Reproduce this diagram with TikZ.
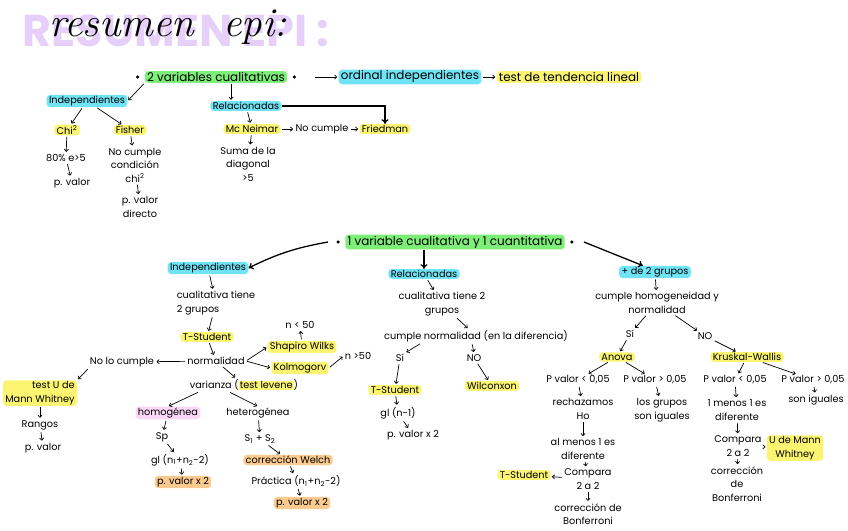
\documentclass[tikz,border=0pt]{standalone}
\usepackage{fontspec}
\usetikzlibrary{arrows.meta}

\newfontfamily\handfont{Poppins}
\newfontfamily\titlebg{Poppins}
\newcommand\hand{\fontsize{8.3}{11.5}\selectfont\handfont}
\newcommand\handbig{\fontsize{10.2}{12}\selectfont\handfont}

\definecolor{hcyan}{RGB}{112,228,245}
\definecolor{hgreen}{RGB}{125,238,120}
\definecolor{hyellow}{RGB}{250,244,112}
\definecolor{hpink}{RGB}{250,215,246}
\definecolor{horange}{RGB}{250,202,142}
\definecolor{lavanda}{RGB}{230,208,250}

\tikzset{
	txt/.style={font=\hand, inner sep=1pt, align=center},
	marca/.style={txt, rounded corners=3pt, inner xsep=2pt},
	grande/.style={font=\handbig},
	hlcyan/.style={marca, fill=hcyan},
	hlgreen/.style={marca, fill=hgreen},
	hlyellow/.style={marca, fill=hyellow},
	hlpink/.style={marca, fill=hpink},
	hlorange/.style={marca, fill=horange},
	punto/.style={circle, fill, inner sep=0pt, minimum size=3pt},
	arr/.style={-{To[length=2.5pt,width=4pt]}, line width=0.6pt, shorten >=1pt, shorten <=1pt},
	arrlargo/.style={-{To[length=4pt,width=6pt]}, line width=1.1pt}
}

\begin{document}
\begin{tikzpicture}[x=0.3mm, y=-0.3mm]
\useasboundingbox (0,0) rectangle (848,530);
\setlength{\fboxsep}{0.8pt}

% Titulo
\node[font=\fontsize{38}{38}\selectfont\bfseries\titlebg, text=lavanda] (fondo) at (176,31) {RESUMEN EPI :};
\node[font=\fontsize{35}{35}\selectfont\itshape\addfontfeatures{LetterSpace=12}] (titulo) at (168,27) {resumen\ \ epi:};

% Dos variables cualitativas
\node[hlgreen, grande] (dosvar) at (216,77) {2 variables cualitativas};
\node[punto] (pdosA) at ([shift={(-7,0)}]dosvar.west) {};
\node[punto] (pdosB) at ([shift={(7,0)}]dosvar.east) {};
\coordinate (iniord) at (314,77);
\node[hlcyan, grande] (ordinal) at (410,77) {ordinal independientes};
\node[hlyellow, grande] (tendencia) at (569,77) {test de tendencia lineal};
\draw[arr] (iniord) -- (ordinal.west);
\draw[arr] (ordinal) -- (tendencia);

\node[hlcyan] (indepA) at (87,101) {Independientes};
\node[hlcyan] (relacA) at (246,106) {Relacionadas};
\draw[arr] (dosvar.south west) -- (indepA.east);
\draw[arr] ([shift={(15,0)}]dosvar.south) -- ([shift={(-15,0)}]relacA.north);

\node[hlyellow] (chi) at (67,130) {Chi\textsuperscript{2}};
\node[hlyellow] (fisher) at (130,130) {Fisher};
\node[txt] (ochenta) at (66,158) {80\% e>5};
\node[txt] (pvalA) at (72,183) {p. valor};
\node[txt] (nocumpleB) at (135,165) {No cumple\\condición\\chi\textsuperscript{2}};
\node[txt] (pvalB) at (140,207) {p. valor\\directo};

\node[hlyellow] (mcneimar) at (252,129) {Mc Neimar};
\node[txt] (nocumpleA) at (322,129) {No cumple};
\node[hlyellow] (friedman) at (385,129) {Friedman};
\node[txt] (suma) at (248,164) {Suma de la\\diagonal\\>5};
\draw[arrlargo] (relacA.east) -- (friedman.north |- relacA.east) -- (friedman.north);

\foreach \a/\b in {indepA/chi, indepA/fisher, chi/ochenta, ochenta/pvalA,
	fisher/nocumpleB, nocumpleB/pvalB, relacA/mcneimar, mcneimar/suma,
	mcneimar/nocumpleA, nocumpleA/friedman}
	\draw[arr] (\a) -- (\b);

% Una variable cualitativa y una cuantitativa
\node[hlgreen, grande] (unavar) at (455,242) {1 variable cualitativa y 1 cuantitativa};
\node[punto] (punA) at ([shift={(-7,0)}]unavar.west) {};
\node[punto] (punB) at ([shift={(7,0)}]unavar.east) {};
\node[hlcyan] (indepB) at (208,268) {Independientes};
\node[hlcyan] (relacB) at (424,274) {Relacionadas};
\node[hlcyan] (masdos) at (655,272) {+ de 2 grupos};
\draw[arrlargo] ([shift={(-8,0)}]punA.west) to[bend right=8] (indepB.east);
\draw[arrlargo] (unavar.south -| relacB.north) -- (relacB.north);
\draw[arrlargo] ([shift={(10,0)}]punB.east) -- ([shift={(-12,0)}]masdos.north);

% Independientes
\node[txt, align=left] (cualiA) at (216,303) {cualitativa tiene\\2 grupos};
\node[hlyellow] (tstudA) at (207,337) {T-Student};
\node[txt] (normal) at (216,361) {normalidad};
\node[txt] (nolo) at (122,362) {No lo cumple};
\node[hlyellow, align=right] (mannA) at (40,393) {test U de\\Mann Whitney};
\node[txt] (rangos) at (40,425) {Rangos};
\node[txt] (pvalC) at (43,448) {p. valor};
\node[hlyellow] (shapiro) at (302,347) {Shapiro Wilks};
\node[txt] (nmenos) at (300,325) {n < 50};
\node[hlyellow] (kolmo) at (300,368) {Kolmogorv};
\node[txt] (nmas) at (358,356) {n >50};
\node[txt] (varianza) at (244,385) {varianza (\colorbox{hyellow}{test levene})};
\node[hlpink] (homog) at (168,413) {homogénea};
\node[txt] (heterog) at (258,413) {heterogénea};
\node[txt] (sp) at (162,437) {Sp};
\node[txt] (glA) at (180,460) {gl (n\textsubscript{1}+n\textsubscript{2}-2)};
\node[hlorange] (pvalD) at (183,482) {p. valor x 2};
\node[txt] (sdos) at (260,439) {S\textsubscript{1} + S\textsubscript{2}};
\node[hlorange] (welch) at (288,460) {corrección Welch};
\node[txt] (practica) at (296,481) {Práctica (n\textsubscript{1}+n\textsubscript{2}-2)};
\node[hlorange] (pvalE) at (302,503) {p. valor x 2};

\foreach \a/\b in {indepB/cualiA, cualiA/tstudA, tstudA/normal, normal/nolo,
	rangos/pvalC, mannA/rangos, shapiro/nmenos, normal/varianza,
	homog/sp, sp/glA, glA/pvalD, heterog/sdos, sdos/welch, welch/practica, practica/pvalE}
	\draw[arr] (\a) -- (\b);
\draw[arr] (nolo.south west) -- (mannA.north east);
\draw[arr] (normal.east) -- (shapiro.west);
\draw[arr] (normal.east) -- (kolmo.west);
\draw[arr] (kolmo.east) -- (nmas.west);
\draw[arr] ([shift={(-45,0)}]varianza.south) -- (homog.north);
\draw[arr] ([shift={(-15,0)}]varianza.south) -- (heterog.north);

% Relacionadas
\node[txt] (cualiB) at (442,304) {cualitativa tiene 2\\grupos};
\node[txt] (cumpleN) at (476,336) {cumple normalidad (en la diferencia)};
\node[txt] (siA) at (400,358) {Sí};
\node[txt] (noA) at (474,358) {NO};
\node[hlyellow] (tstudB) at (395,390) {T-Student};
\node[hlyellow] (wilcox) at (492,386) {Wilconxon};
\node[txt] (glB) at (398,413) {gl (n-1)};
\node[txt] (pvalF) at (413,435) {p. valor x 2};

\foreach \a/\b in {relacB/cualiB, cualiB/cumpleN, siA/tstudB, noA/wilcox,
	tstudB/glB, glB/pvalF}
	\draw[arr] (\a) -- (\b);
\draw[arr] ([shift={(-55,0)}]cumpleN.south) -- (siA.north east);
\draw[arr] ([shift={(-4,0)}]cumpleN.south) -- (noA.north);

% Mas de dos grupos
\node[txt] (cumpleH) at (657,303) {cumple homogeneidad y\\normalidad};
\node[txt] (siB) at (630,334) {Sí};
\node[txt] (noB) at (705,336) {NO};
\node[hlyellow] (anova) at (617,357) {Anova};
\node[hlyellow] (kruskal) at (747,357) {Kruskal-Wallis};
\node[txt] (pmenA) at (578,380) {P valor < 0,05};
\node[txt] (pmasA) at (655,380) {P valor > 0,05};
\node[txt] (pmenB) at (735,380) {P valor < 0,05};
\node[txt] (pmasB) at (813,380) {P valor > 0,05};
\node[txt] (rechaz) at (583,409) {rechazamos\\Ho};
\node[txt] (almenosA) at (583,449) {al menos 1 es\\diferente};
\node[txt] (comparaA) at (588,479) {Compara\\2 a 2};
\node[hlyellow] (tstudC) at (524,475) {T-Student};
\node[txt] (bonfA) at (588,514) {corrección de\\Bonferroni};
\node[txt] (iguales) at (662,410) {los grupos\\son iguales};
\node[txt] (almenosB) at (737,410) {1 menos 1 es\\diferente};
\node[txt] (comparaB) at (738,446) {Compara\\2 a 2};
\node[hlyellow] (mannB) at (795,448) {U de Mann\\Whitney};
\node[txt] (bonfB) at (737,484) {corrección\\de\\Bonferroni};
\node[txt] (igualesB) at (816,400) {son iguales};

\foreach \a/\b in {masdos/cumpleH, cumpleH/siB, cumpleH/noB, siB/anova, noB/kruskal,
	anova/pmenA, anova/pmasA, kruskal/pmenB, kruskal/pmasB,
	pmenA/rechaz, rechaz/almenosA, almenosA/comparaA, comparaA/tstudC, comparaA/bonfA,
	pmasA/iguales, pmenB/almenosB, almenosB/comparaB, comparaB/mannB, comparaB/bonfB,
	pmasB/igualesB}
	\draw[arr] (\a) -- (\b);
\end{tikzpicture}
\end{document}
